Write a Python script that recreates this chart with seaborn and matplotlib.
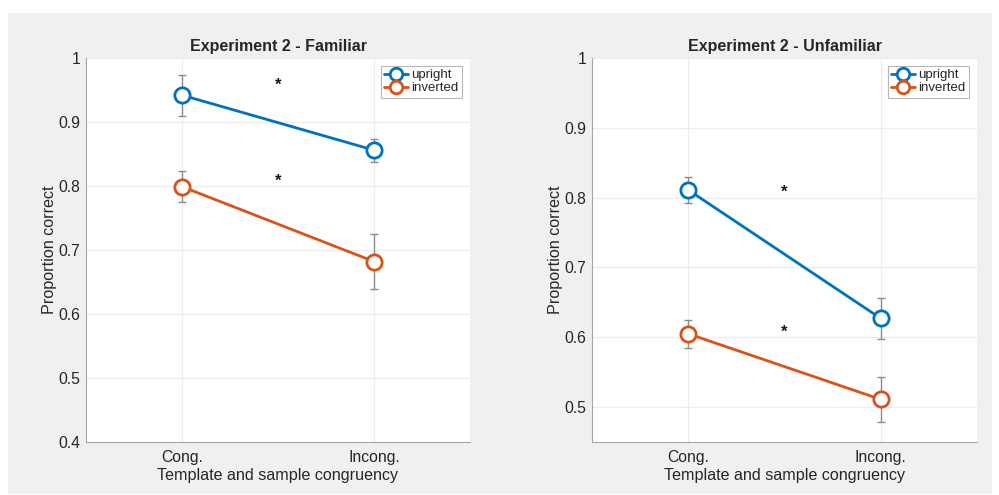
import pandas as pd
import matplotlib.pyplot as plt
from matplotlib.patches import Rectangle
import seaborn as sns

# Conditions and groups
conditions = ['Cong.', 'Incong.']
groups = ['upright', 'inverted']

# Experiment 2 - Familiar (means and error bar half-widths)
fam_upright = [0.942, 0.856]
fam_inverted = [0.799, 0.682]
fam_upright_err = [0.032, 0.018]
fam_inverted_err = [0.024, 0.043]
fam_stars = [0.957, 0.807]

# Experiment 2 - Unfamiliar
unf_upright = [0.811, 0.627]
unf_inverted = [0.605, 0.511]
unf_upright_err = [0.018, 0.029]
unf_inverted_err = [0.020, 0.032]
unf_stars = [0.807, 0.607]

titles = ['Experiment 2 - Familiar', 'Experiment 2 - Unfamiliar']
ylims = [(0.4, 1.0), (0.45, 1.0)]
yticks = [[0.4, 0.5, 0.6, 0.7, 0.8, 0.9, 1.0], [0.5, 0.6, 0.7, 0.8, 0.9, 1.0]]

sns.set_style('white')
plt.rcParams['font.family'] = ['Liberation Sans', 'DejaVu Sans']

palette = {'upright': '#0072BD', 'inverted': '#D95319'}

fig = plt.figure(figsize=(9.99, 4.95), dpi=100)
fig.patch.set_facecolor('white')
fig.patches.append(Rectangle((8 / 999, 1 / 495), 984 / 999, 481 / 495,
                             transform=fig.transFigure, facecolor='#f0f0f0',
                             edgecolor='none', zorder=-10))

axes_pos = [[86 / 999, 53 / 495, 384 / 999, 384 / 495],
            [592 / 999, 53 / 495, 385 / 999, 384 / 495]]

panels = [
    (fam_upright, fam_inverted, fam_upright_err, fam_inverted_err, fam_stars),
    (unf_upright, unf_inverted, unf_upright_err, unf_inverted_err, unf_stars),
]

for i, (up, inv, up_err, inv_err, stars) in enumerate(panels):
    ax = fig.add_axes(axes_pos[i])
    ax.set_facecolor('white')

    df = pd.DataFrame({
        'Condition': conditions * 2,
        'Proportion': up + inv,
        'Err': up_err + inv_err,
        'Group': ['upright'] * 2 + ['inverted'] * 2,
    })

    for g in groups:
        sub = df[df['Group'] == g]
        xs = [conditions.index(c) for c in sub['Condition']]
        # error bars under the markers
        ax.errorbar(xs, sub['Proportion'], yerr=sub['Err'], fmt='none',
                    ecolor='#8c8c8c', elinewidth=1, capsize=3, capthick=1, zorder=2)
        sns.lineplot(data=sub, x='Condition', y='Proportion', label=g,
                     color=palette[g], marker='o', markersize=11,
                     markerfacecolor='white', markeredgecolor=palette[g],
                     markeredgewidth=2, linewidth=2, ax=ax, zorder=3)

    # significance stars between conditions
    for s in stars:
        ax.text(0.5, s, '*', ha='center', va='center', fontsize=12,
                fontweight='bold', color='#1a1a1a')

    ax.set_xlim(-0.5, 1.5)
    ax.set_ylim(*ylims[i])
    ax.set_yticks(yticks[i])
    ax.set_yticklabels([f'{t:g}' for t in yticks[i]])
    ax.set_title(titles[i], fontsize=11.5, fontweight='bold', pad=5)
    ax.set_xlabel('Template and sample congruency', fontsize=11.6, color='#262626', labelpad=2)
    ax.set_ylabel('Proportion correct', fontsize=11.6, color='#262626', labelpad=1)
    ax.grid(True, color='#ececec', linewidth=0.8)
    ax.set_axisbelow(True)
    ax.tick_params(axis='x', labelsize=11.3, colors='#262626', length=0, pad=6)
    ax.tick_params(axis='y', labelsize=11.3, colors='#262626', length=0, pad=4)
    for side in ['top', 'right']:
        ax.spines[side].set_visible(False)
    for side in ['left', 'bottom']:
        ax.spines[side].set_color('#a6a6a6')
        ax.spines[side].set_linewidth(0.8)

    leg = ax.legend(loc='upper right', fontsize=9.5, frameon=True, fancybox=False,
                    handlelength=1.8, handletextpad=0.3, borderpad=0.25,
                    labelspacing=0.05, borderaxespad=0.6)
    leg.get_frame().set_edgecolor('#a6a6a6')
    leg.get_frame().set_linewidth(0.8)
    for h in leg.legend_handles:
        h.set_markersize(9)

fig.savefig('out.png', dpi=100, facecolor=fig.get_facecolor())
